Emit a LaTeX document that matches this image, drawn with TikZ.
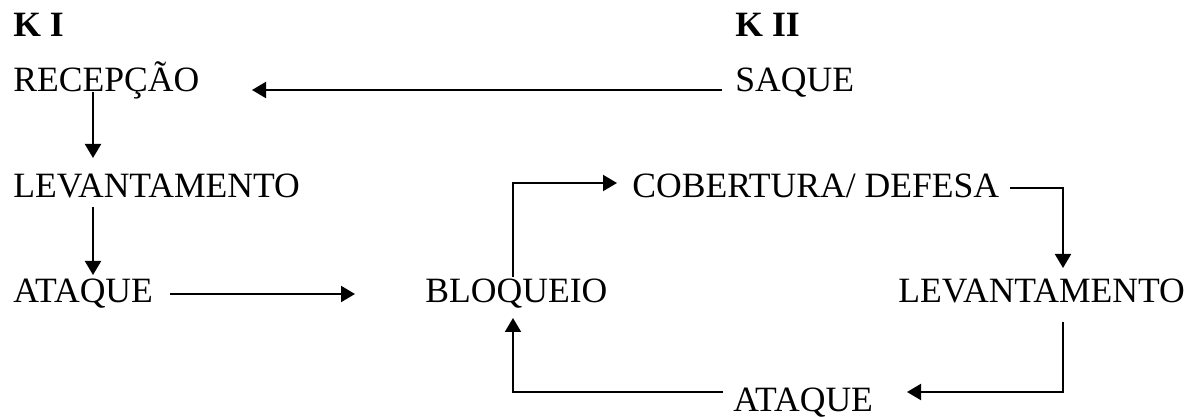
\documentclass[tikz,border=0pt]{standalone}
\usepackage{fontspec}
\setmainfont{Liberation Serif}
\usetikzlibrary{calc,arrows.meta}
\tikzset{
	lbl/.style={anchor=base west, inner sep=0pt, font=\fontsize{17.8pt}{20pt}\selectfont},
	arr/.style={line width=1pt, -{Triangle[length=7pt, width=8pt]}}
}

\begin{document}
\begin{tikzpicture}[x=0.5pt, y=-0.5pt]
			%%%%% START %%%%%
			
			\useasboundingbox (0, 0) rectangle (1196, 417);
			
			\node[lbl, font=\fontsize{17.8pt}{20pt}\selectfont\bfseries] (k1) at (13, 37) {K I};
			\node[lbl, font=\fontsize{17.8pt}{20pt}\selectfont\bfseries] (k2) at (735, 37) {K II};
			
			\node[lbl] (recep) at (13, 92) {RECEPÇÃO};
			\node[lbl] (saque) at (735, 92) {SAQUE};
			\node[lbl] (levL) at (13, 198) {LEVANTAMENTO};
			\node[lbl] (ataqL) at (13, 303) {ATAQUE};
			\node[lbl] (bloq) at (425, 303) {BLOQUEIO};
			\node[lbl] (cob) at (632, 198) {COBERTURA/ DEFESA};
			\node[lbl] (levR) at (898, 303) {LEVANTAMENTO};
			\node[lbl] (ataqB) at (733, 411) {ATAQUE};
			
			\draw[arr] ($(saque.base west)+(-13, -2)$) -- ($(recep.base west)+(239, -2)$);
			\draw[arr] ($(recep.base west)+(80, 0)$) -- ($(levL.base west)+(80, -40)$);
			\draw[arr] ($(levL.base west)+(80, 9)$) -- ($(ataqL.base west)+(80, -28)$);
			\draw[arr] ($(ataqL.base west)+(157, -9)$) -- ($(bloq.base west)+(-70, -9)$);
			
			\draw[arr] ($(bloq.base west)+(88, -26)$) |- ($(cob.base west)+(-15, -15)$);
			\draw[arr] ($(cob.base west)+(378, -10)$) -| ($(levR.base west)+(165, -35)$);
			\draw[arr] ($(levR.base west)+(165, 19)$) |- ($(ataqB.base west)+(174, -19)$);
			\draw[arr] ($(ataqB.base west)+(-10, -19)$) -| ($(bloq.base west)+(88, 15)$);
			
			%%%%% END %%%%%
\end{tikzpicture}
\end{document}
